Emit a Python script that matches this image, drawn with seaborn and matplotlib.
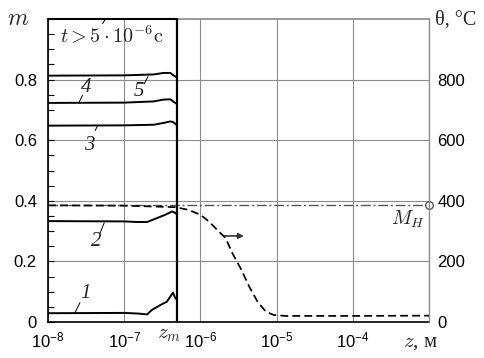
import matplotlib
matplotlib.use("Agg")
import numpy as np
import pandas as pd
import seaborn as sns
import matplotlib.pyplot as plt
from matplotlib.ticker import LogLocator, MultipleLocator, NullFormatter, FixedLocator

# ---------------- data ----------------
z_m = 4.9e-7          # boundary z_m, m
M_H = 0.385           # level M_H

z_c1 = [1e-8, 1e-7, 1.5e-7, 2.0e-7, 2.31e-7, 2.98e-7, 3.63e-7, 4.37e-7, 4.69e-7, 4.9e-7]
m_c1 = [0.029, 0.030, 0.028, 0.025, 0.040, 0.056, 0.067, 0.097, 0.078, 0.075]

z_c2 = [1e-8, 1e-7, 1.5e-7, 2.0e-7, 2.69e-7, 3.47e-7, 4.25e-7, 4.69e-7, 4.9e-7]
m_c2 = [0.333, 0.332, 0.330, 0.330, 0.343, 0.354, 0.365, 0.360, 0.355]

z_top = [1e-8, 1e-7, 2.43e-7, 3.29e-7, 4.03e-7, 4.37e-7, 4.9e-7]
m_c3 = [0.648, 0.649, 0.651, 0.657, 0.662, 0.660, 0.650]
m_c4 = [0.723, 0.724, 0.728, 0.734, 0.735, 0.728, 0.720]
m_c5 = [0.813, 0.814, 0.817, 0.822, 0.822, 0.815, 0.807]

z_theta = [1e-8, 1e-7, 4.69e-7, 7.0e-7, 1.0e-6, 1.29e-6, 1.66e-6, 2.14e-6, 2.63e-6,
           3.39e-6, 4.37e-6, 5.62e-6, 7.24e-6, 9.2e-6, 1.32e-5, 1e-4, 1e-3]
theta = [385, 384, 379, 370, 354, 332, 304, 277, 227, 176, 117, 67, 34, 23, 20, 20, 21]

xticks = [1e-8, 1e-7, 1e-6, 1e-5, 1e-4, 1e-3]
xtick_labels = [r"$\mathdefault{10^{-8}}$", r"$\mathdefault{10^{-7}}$", r"$\mathdefault{10^{-6}}$",
                r"$\mathdefault{10^{-5}}$", r"$\mathdefault{10^{-4}}$", ""]
yticks_left = [0, 0.2, 0.4, 0.6, 0.8]
ytick_left_labels = ["0", "0.2", "0.4", "0.6", "0.8"]
yticks_right = [0, 200, 400, 600, 800]
ytick_right_labels = ["0", "200", "400", "600", "800"]

curve_labels = ["1", "2", "3", "4", "5"]
label_pos = [(3.07e-8, 0.093), (4.28e-8, 0.265), (3.47e-8, 0.582), (3.16e-8, 0.774), (1.58e-7, 0.760)]
leader_from = [(2.63e-8, 0.064), (4.83e-8, 0.294), (4.15e-8, 0.632), (2.84e-8, 0.748), (1.83e-7, 0.786)]
leader_to = [(2.26e-8, 0.031), (5.46e-8, 0.327), (4.54e-8, 0.650), (2.56e-8, 0.726), (2.05e-7, 0.810)]

# ---------------- style ----------------
sns.set_theme(style="white")
plt.rcParams["font.family"] = ["Liberation Sans", "DejaVu Sans"]
plt.rcParams["axes.unicode_minus"] = False

W, H = 485, 358
fig = plt.figure(figsize=(W / 100, H / 100), dpi=100)
L, R, T, B = 48, 429, 19, 322
ax = fig.add_axes([L / W, 1 - B / H, (R - L) / W, (B - T) / H])
ax2 = ax.twinx()

GRID = "#8c8c8c"
TICK_FS = 12

# curves
for zz, mm in [(z_c1, m_c1), (z_c2, m_c2), (z_top, m_c3), (z_top, m_c4), (z_top, m_c5)]:
    sns.lineplot(x=zz, y=mm, ax=ax, color="black", lw=1.4, sort=False, estimator=None, zorder=4)

# M_H dash-dot line
ax.plot([1e-8, 1e-3], [M_H, M_H], color="#555555", lw=1.0, ls=(0, (7, 2, 1.5, 2)), zorder=3)
ax.plot([1e-3], [M_H], marker="o", ms=5.5, mfc="white", mec="#555555", mew=1, clip_on=False, zorder=6)

# temperature (right axis)
sns.lineplot(x=z_theta, y=theta, ax=ax2, color="black", lw=1.25, sort=False, estimator=None,
             linestyle=(0, (4.5, 2.4)))

# z_m boundary
ax.axvline(z_m, color="black", lw=1.6, zorder=5)
ax.plot([1e-8, z_m], [1.0, 1.0], color="black", lw=1.5, clip_on=False, zorder=6)

# axes setup
ax.set_xscale("log")
ax.set_xlim(1e-8, 1e-3)
ax.set_ylim(0, 1)
ax2.set_ylim(0, 1000)
ax.set_xticks(xticks)
ax.set_xticklabels(xtick_labels)
ax.xaxis.set_minor_locator(LogLocator(base=10, subs=np.arange(2, 10), numticks=100))
ax.xaxis.set_minor_formatter(NullFormatter())
ax.set_yticks(yticks_left)
ax.set_yticklabels(ytick_left_labels)
ax.yaxis.set_minor_locator(MultipleLocator(0.05))
ax2.set_yticks(yticks_right)
ax2.set_yticklabels(ytick_right_labels)

ax.grid(True, which="major", color=GRID, lw=0.8)
ax.set_axisbelow(True)
ax2.grid(False)

ax.tick_params(axis="both", which="both", direction="in", colors="black", labelsize=TICK_FS)
ax.tick_params(axis="both", which="major", length=4, width=0.8)
ax.tick_params(axis="both", which="minor", length=4, width=0.8)
ax.tick_params(axis="x", which="major", pad=6)
ax.tick_params(axis="y", which="major", pad=8, right=False)
ax.tick_params(axis="y", which="minor", right=False)
ax.tick_params(axis="x", which="both", top=False)
ax2.tick_params(axis="y", which="both", length=0, pad=6, labelsize=TICK_FS, colors="black")

for sp in ["left", "bottom"]:
    ax.spines[sp].set_color("black")
    ax.spines[sp].set_linewidth(1.2)
ax.spines["top"].set_color(GRID)
ax.spines["right"].set_visible(False)
for sp in ["left", "bottom", "top"]:
    ax2.spines[sp].set_visible(False)
ax2.spines["right"].set_color(GRID)
ax2.spines["right"].set_linewidth(1.0)
ax.set_xlabel("")
ax.set_ylabel("")
ax2.set_ylabel("")

# arrow pointing to right axis
ax.annotate("", xy=(3.72e-6, 0.284), xytext=(2.09e-6, 0.284),
            arrowprops=dict(arrowstyle="-|>", color="#333333", lw=1.2, mutation_scale=8,
                            shrinkA=0, shrinkB=0))

# curve labels
for lab, (xl, yl), (xf, yf), (xt, yt) in zip(curve_labels, label_pos, leader_from, leader_to):
    ax.text(xl, yl, lab, ha="center", va="center", fontsize=15, style="italic",
            family="Liberation Serif", zorder=7)
    ax.plot([xf, xt], [yf, yt], color="black", lw=0.7, zorder=7)

# small leader near the top
ax.plot([5.2e-8, 5.7e-8], [0.985, 1.0], color="black", lw=0.7, zorder=7)

def ftext(x, y, s, **kw):
    return fig.text(x / W, 1 - y / H, s, **kw)

ftext(60, 43, r"$t > 5\cdot10^{-6}\mathrm{c}$", ha="left", va="baseline", fontsize=14.5,
      math_fontfamily="cm")
ftext(18, 25, r"$m$", ha="center", va="baseline", fontsize=17, math_fontfamily="cm")
ftext(435, 25, "θ, °C", ha="left", va="baseline", fontsize=14.5, family="Liberation Serif")
ftext(157, 338, r"$z_m$", ha="left", va="baseline", fontsize=15, math_fontfamily="cm")
ftext(403, 347, r"$z$, м", ha="left", va="baseline", fontsize=15, family="Liberation Serif",
      math_fontfamily="cm")
ftext(425, 225, r"$M_H$", ha="right", va="baseline", fontsize=14.5, math_fontfamily="cm")

fig.savefig("out.png", dpi=100, facecolor="white")
